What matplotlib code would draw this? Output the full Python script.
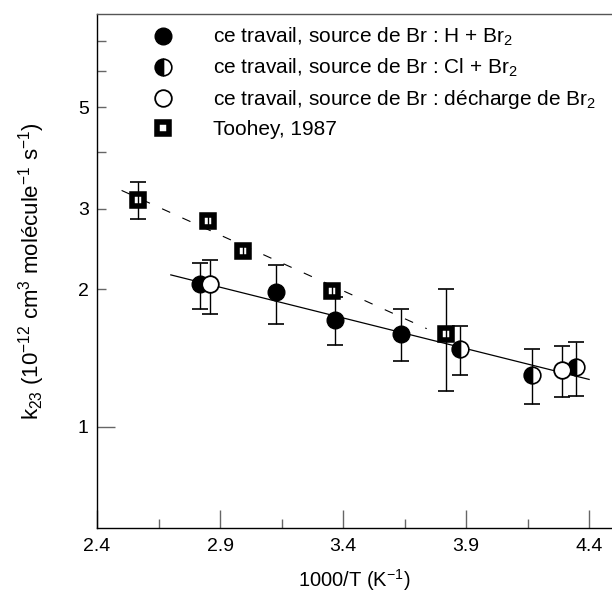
import numpy as np
import matplotlib
matplotlib.use("Agg")
from matplotlib import pyplot as plt
from matplotlib.lines import Line2D

# H + Br2 (filled circles)
h_x = [2.819, 3.126, 3.369, 3.636]
h_k = [2.05, 1.97, 1.71, 1.60]
h_lo = [1.81, 1.68, 1.51, 1.39]
h_hi = [2.28, 2.26, 1.92, 1.81]

# Cl + Br2 (half-filled circles)
cl_x = [3.876, 4.167, 4.347]
cl_k = [1.48, 1.30, 1.35]
cl_lo = [1.30, 1.12, 1.17]
cl_hi = [1.66, 1.48, 1.53]

# Br2 discharge (open circles)
dis_x = [2.859, 4.291]
dis_k = [2.05, 1.33]
dis_lo = [1.77, 1.16]
dis_hi = [2.32, 1.50]

# Toohey, 1987 (squares)
t_x = [2.565, 2.850, 2.993, 3.357, 3.817]
t_k = [3.14, 2.82, 2.43, 1.98, 1.60]
t_lo = [2.85, 2.74, 2.36, 1.92, 1.20]
t_hi = [3.44, 2.90, 2.50, 2.04, 2.00]

# Arrhenius fits
fit_x = [2.70, 4.40]
fit_k = [2.15, 1.27]
t_fit_x = [2.50, 3.74]
t_fit_k = [3.29, 1.64]

labels = [
    "ce travail, source de Br : H + Br$_2$",
    "ce travail, source de Br : Cl + Br$_2$",
    "ce travail, source de Br : décharge de Br$_2$",
    "Toohey, 1987",
]

plt.rcParams["font.family"] = ["Liberation Sans", "DejaVu Sans"]
plt.rcParams["mathtext.default"] = "regular"

fig = plt.figure(figsize=(6.12, 5.95), dpi=100)
ax = fig.add_axes([97 / 612, 1 - 528.3 / 595, 1 - 97 / 612, (528.3 - 14) / 595])


def yerr(k, lo, hi):
    k = np.asarray(k)
    return [k - np.asarray(lo), np.asarray(hi) - k]


err_style = dict(fmt="none", ecolor="black", elinewidth=1.0, capsize=6, capthick=1.2, zorder=3)

ax.plot(fit_x, fit_k, color="black", linewidth=0.9, zorder=1)
ax.plot(t_fit_x, t_fit_k, color="black", linewidth=0.8, dashes=(8, 12), zorder=1)

ax.errorbar(t_x, t_k, yerr=yerr(t_k, t_lo, t_hi), **err_style)
ax.errorbar(h_x, h_k, yerr=yerr(h_k, h_lo, h_hi), **err_style)
ax.errorbar(cl_x, cl_k, yerr=yerr(cl_k, cl_lo, cl_hi), **err_style)
ax.errorbar(dis_x, dis_k, yerr=yerr(dis_k, dis_lo, dis_hi), **err_style)

sq = dict(marker="s", markersize=9, markerfacecolor="white", markeredgecolor="black", markeredgewidth=4, linestyle="none")
full = dict(marker="o", markersize=12, markerfacecolor="black", markeredgecolor="black", markeredgewidth=1, linestyle="none")
half = dict(marker="o", markersize=12, fillstyle="left", markerfacecolor="black", markerfacecoloralt="white",
            markeredgecolor="black", markeredgewidth=1.2, linestyle="none")
empty = dict(marker="o", markersize=12, markerfacecolor="white", markeredgecolor="black", markeredgewidth=1.3, linestyle="none")

ax.plot(t_x, t_k, zorder=2, **sq)
ax.plot(h_x, h_k, zorder=4, **full)
ax.plot(cl_x, cl_k, zorder=4, **half)
ax.plot(dis_x, dis_k, zorder=4, **empty)

ax.set_yscale("log")
ax.set_xlim(2.4, 4.493)
ax.set_ylim(0.6, 8.0)

ax.set_xticks([2.4, 2.9, 3.4, 3.9, 4.4])
ax.set_xticklabels(["2.4", "2.9", "3.4", "3.9", "4.4"])
ax.set_xticks([2.65, 3.15, 3.65, 4.15], minor=True)
ax.set_yticks([1])
ax.set_yticklabels(["1"])
ax.set_yticks([2, 3, 4, 5, 6, 7], minor=True)
ax.set_yticklabels(["2", "3", "", "5", "", ""], minor=True)

ax.tick_params(which="both", direction="in", color="#666666", width=1.0, labelsize=14, labelcolor="black")
ax.tick_params(axis="x", which="major", length=12.7, pad=7)
ax.tick_params(axis="x", which="minor", length=6.5)
ax.tick_params(axis="y", which="major", length=12.7, pad=6)
ax.tick_params(axis="y", which="minor", length=6.5, pad=6)

ax.spines["right"].set_visible(False)
ax.spines["top"].set_color("#555555")
for side in ("left", "bottom"):
    ax.spines[side].set_color("black")
for spine in ax.spines.values():
    spine.set_linewidth(1.0)

ax.set_xlabel("1000/T (K$^{-1}$)", fontsize=14.5, labelpad=9)
ax.set_ylabel("k$_{23}$ (10$^{-12}$ cm$^{3}$ molécule$^{-1}$ s$^{-1}$)", fontsize=16, labelpad=22)

handles = [
    Line2D([], [], **full),
    Line2D([], [], **half),
    Line2D([], [], **empty),
    Line2D([], [], **sq),
]
leg = ax.legend(handles, labels, loc="upper left", bbox_to_anchor=(0.09, 0.995), frameon=False,
                fontsize=15, handlelength=1.0, handletextpad=1.9, labelspacing=0.42, borderaxespad=0.05,
                numpoints=1)

fig.savefig("out.png", dpi=100)
